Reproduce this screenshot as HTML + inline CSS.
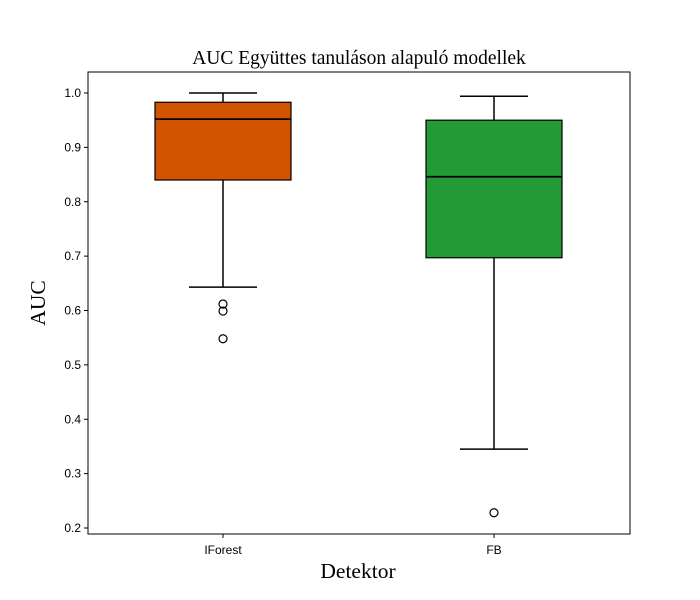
<!DOCTYPE html>
<html><head><meta charset="utf-8"><style>
html,body{margin:0;padding:0;background:#fff;}
svg{display:block;}
</style></head><body>
<svg id="chart" width="700" height="600" xmlns="http://www.w3.org/2000/svg">
<rect x="0" y="0" width="700" height="600" fill="#fff"/>
<text x="359" y="64" text-anchor="middle" font-family="Liberation Serif, serif" font-size="19.5">AUC Együttes tanuláson alapuló modellek</text>
<text x="358" y="578" text-anchor="middle" font-family="Liberation Serif, serif" font-size="21.5">Detektor</text>
<text transform="translate(45,303) rotate(-90)" text-anchor="middle" font-family="Liberation Serif, serif" font-size="21.5">AUC</text>
<g id="marks"></g>
<rect x="88" y="72" width="542" height="462" fill="none" stroke="#000" stroke-width="1"/>
</svg>
<script>
const categories = ["IForest", "FB"];
const whiskerLow = [0.643, 0.345];
const q1 = [0.840, 0.697];
const medians = [0.952, 0.846];
const q3 = [0.983, 0.950];
const whiskerHigh = [1.0, 0.994];
const outliers = [[0.612, 0.599, 0.548], [0.228]];
const colors = ["#d35400", "#239a35"];
const yTicks = [0.2, 0.3, 0.4, 0.5, 0.6, 0.7, 0.8, 0.9, 1.0];

const NS = "http://www.w3.org/2000/svg";
const g = document.getElementById("marks");
const y = v => 528 - (v - 0.2) / 0.8 * 435;
const x = i => 223 + i * 271;
const boxW = 136, capW = 68;

function mk(tag, attrs, parent) {
  const e = document.createElementNS(NS, tag);
  for (const k in attrs) e.setAttribute(k, attrs[k]);
  (parent || g).appendChild(e);
  return e;
}

yTicks.forEach(t => {
  const l = mk("line", {x1: 84, x2: 88, y1: y(t), y2: y(t), stroke: "#000"});
  
  
  const tx = mk("text", {x: 81, y: y(t) + 4, "text-anchor": "end", "font-family": "Liberation Sans, sans-serif", "font-size": 12});
  tx.textContent = t.toFixed(1);
  
  
});

categories.forEach((c, i) => {
  const cx = x(i);
  const grp = mk("g", {});
  
  
  mk("line", {x1: cx, x2: cx, y1: y(whiskerHigh[i]), y2: y(q3[i]), stroke: "#000", "stroke-width": 1.5}, grp);
  mk("line", {x1: cx, x2: cx, y1: y(q1[i]), y2: y(whiskerLow[i]), stroke: "#000", "stroke-width": 1.5}, grp);
  mk("line", {x1: cx - capW/2, x2: cx + capW/2, y1: y(whiskerHigh[i]), y2: y(whiskerHigh[i]), stroke: "#000", "stroke-width": 1.5}, grp);
  mk("line", {x1: cx - capW/2, x2: cx + capW/2, y1: y(whiskerLow[i]), y2: y(whiskerLow[i]), stroke: "#000", "stroke-width": 1.5}, grp);
  mk("rect", {x: cx - boxW/2, y: y(q3[i]), width: boxW, height: y(q1[i]) - y(q3[i]), fill: colors[i], stroke: "#000", "stroke-width": 1.2}, grp);
  mk("line", {x1: cx - boxW/2, x2: cx + boxW/2, y1: y(medians[i]), y2: y(medians[i]), stroke: "#000", "stroke-width": 1.8}, grp);
  outliers[i].forEach(o => {
    const ci = mk("circle", {cx: cx, cy: y(o), r: 4, fill: "none", stroke: "#000", "stroke-width": 1.2});
    
    
  });
  const tk = mk("line", {x1: cx, x2: cx, y1: 534, y2: 538, stroke: "#000"});
  
  
  const lb = mk("text", {x: cx, y: 554, "text-anchor": "middle", "font-family": "Liberation Sans, sans-serif", "font-size": 12});
  lb.textContent = c;
  
  
});
</script>
</body></html>
